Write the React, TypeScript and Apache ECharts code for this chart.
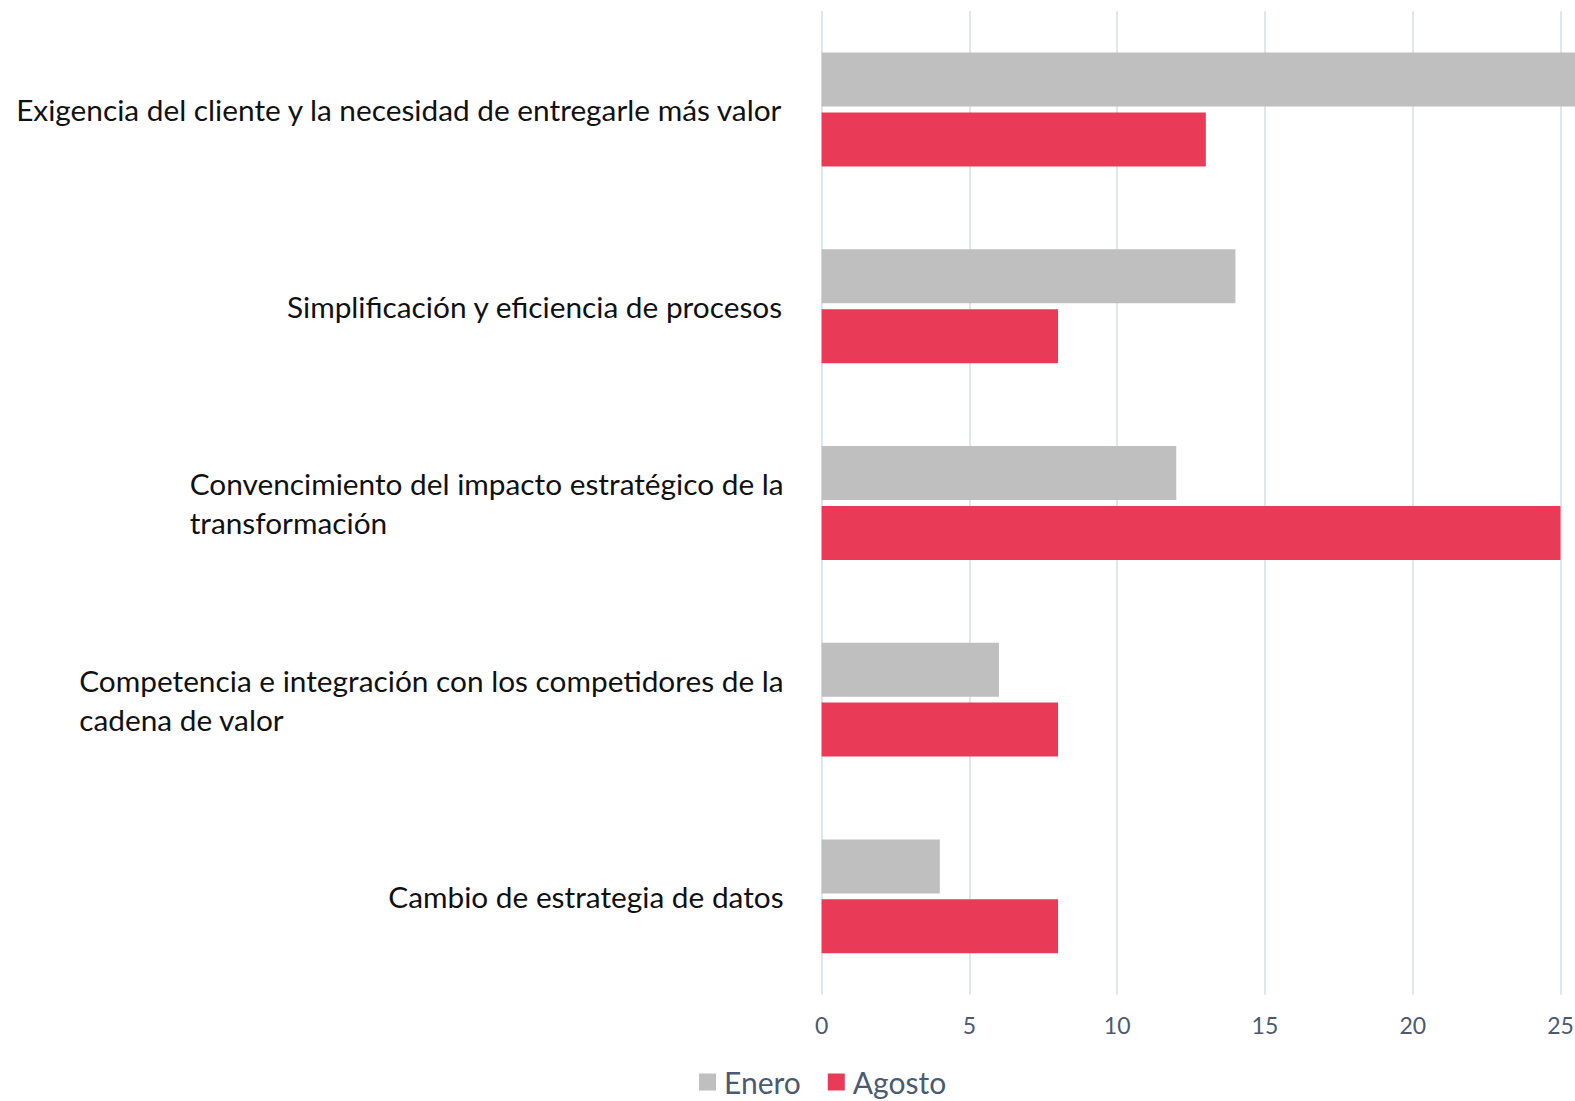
import React, { useEffect, useRef } from "react";
import * as echarts from "echarts";

const categories = [
  "Exigencia del cliente y la necesidad de entregarle más valor",
  "Simplificación y eficiencia de procesos",
  "Convencimiento del impacto estratégico de la\ntransformación",
  "Competencia e integración con los competidores de la\ncadena de valor",
  "Cambio de estrategia de datos",
];
const seriesNames = ["Enero", "Agosto"];
const enero = [27, 14, 12, 6, 4];
const agosto = [13, 8, 25, 8, 8];
const xTicks = { min: 0, max: 25, interval: 5 };

const FONT = "Lato, 'Open Sans', sans-serif";

export default function App() {
  const ref = useRef<HTMLDivElement>(null);
  useEffect(() => {
    if (!ref.current) return;
    const chart = echarts.init(ref.current, null, { renderer: "svg" });
    chart.setOption({
      animation: false,
      textStyle: { fontFamily: FONT },
      grid: {
        left: 821.6,
        right: 14.5,
        top: 11.2,
        bottom: 106.3,
        containLabel: false,
        outerBoundsMode: "none",
      },
      legend: {
        left: 694,
        top: 1062,
        itemWidth: 17,
        itemHeight: 17,
        itemGap: 27,
        icon: "rect",
        textStyle: { fontSize: 30, color: "#4b5a70", fontFamily: FONT, padding: [0, 0, 0, 3] },
        data: seriesNames,
      },
      xAxis: {
        type: "value",
        min: xTicks.min,
        max: xTicks.max,
        interval: xTicks.interval,
        axisLine: { show: false },
        axisTick: { show: false },
        splitLine: { show: true, lineStyle: { color: "#e1e5ec", width: 2 } },
        axisLabel: { fontSize: 23, color: "#4b5a70", margin: 19, fontFamily: FONT },
      },
      yAxis: {
        type: "category",
        inverse: true,
        data: categories,
        axisLine: { show: false },
        axisTick: { show: false },
        axisLabel: {
          margin: 38,
          formatter: (v: string) => v.split("\n").map((l) => `{a|${l}}`).join("\n"),
          rich: {
            a: { align: "left", fontSize: 29.8, lineHeight: 39, color: "#111111", fontFamily: FONT },
          },
        },
      },
      series: [
        {
          name: seriesNames[0],
          type: "bar",
          data: enero,
          barWidth: 54,
          barGap: "11%",
          clip: false,
          itemStyle: { color: "#bfbfbf" },
        },
        {
          name: seriesNames[1],
          type: "bar",
          data: agosto,
          barWidth: 54,
          barGap: "11%",
          clip: false,
          itemStyle: { color: "#e93a57" },
        },
      ],
    });
    return () => chart.dispose();
  }, []);
  return (
    <div
      ref={ref}
      style={{ position: "absolute", left: 0, top: 0, width: 1575, height: 1101 }}
    />
  );
}
